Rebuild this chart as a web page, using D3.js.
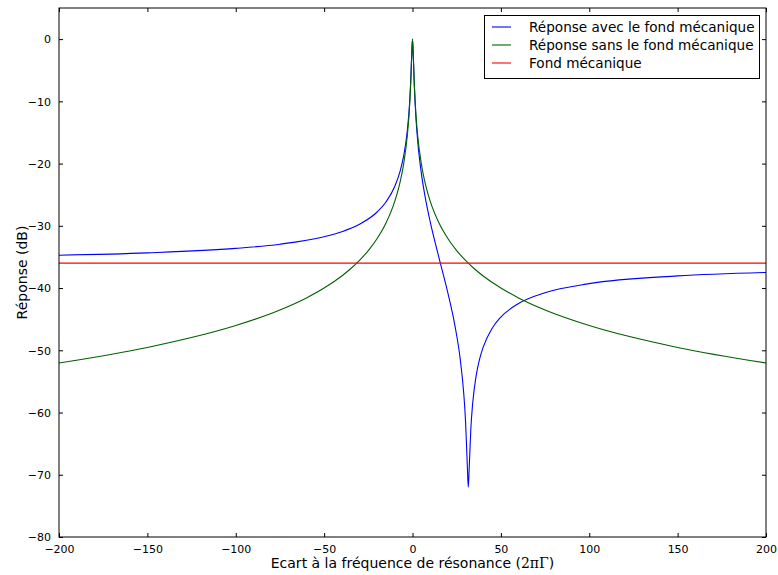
<!DOCTYPE html>
<html><head><meta charset="utf-8">
<script src="https://cdn.jsdelivr.net/npm/d3@7/dist/d3.min.js"></script>
<style>body{margin:0;background:#fff;} svg{display:block;font-family:"DejaVu Sans",sans-serif;}</style>
</head><body>
<svg id="chart" width="778" height="575"></svg>
<script>
// Data
const xTicks = [-200, -150, -100, -50, 0, 50, 100, 150, 200];
const yTicks = [-80, -70, -60, -50, -40, -30, -20, -10, 0];
const seriesNames = ["Réponse avec le fond mécanique", "Réponse sans le fond mécanique", "Fond mécanique"];

const blueX = [-200,-150,-100,-75,-50,-40,-30,-20,-15,-10,-7,-5,-3,-2,-1.5,-1,-0.5,0,0.5,1,1.5,2,3,5,7,10,15,20,24,27,29,30,31,31.55,32,33,34,36,38,40,45,50,60,75,100,150,200];
const blueY = [-34.73,-34.34,-33.62,-32.95,-31.75,-30.95,-29.76,-27.78,-26.17,-23.64,-21.20,-18.76,-14.89,-11.77,-9.60,-6.72,-2.87,0.00,-3.15,-7.27,-10.42,-12.87,-16.55,-21.54,-25.12,-29.34,-35.15,-40.77,-46.03,-51.42,-56.96,-61.32,-68.43,-72.0,-69.53,-62.64,-58.67,-54.10,-51.37,-49.50,-46.49,-44.66,-42.48,-40.74,-39.29,-38.05,-37.49];

const greenX = [-200,-150,-100,-75,-60,-50,-40,-35,-30,-25,-20,-15,-10,-7,-5,-3,-2,-1.5,-1,-0.5,0,0.5,1,1.5,2,3,5,7,10,15,20,25,30,35,40,50,60,75,100,150,200];
const greenY = [-52.04,-49.54,-46.02,-43.52,-41.58,-40.00,-38.06,-36.90,-35.56,-33.98,-32.04,-29.55,-26.03,-22.94,-20.04,-15.68,-12.30,-10.00,-6.99,-3.01,0,-3.01,-6.99,-10.00,-12.30,-15.68,-20.04,-22.94,-26.03,-29.55,-32.04,-33.98,-35.56,-36.90,-38.06,-40.00,-41.58,-43.52,-46.02,-49.54,-52.04];

const redX = [-200, 200];
const redY = [-36, -36];

const colors = ["#0000ff", "#006000", "#ff0000"];

const svg = d3.select("#chart");
const m = {left: 59, top: 8, right: 766, bottom: 537};
const x = d3.scaleLinear().domain([-200, 200]).range([m.left, m.right]);
const y = d3.scaleLinear().domain([-80, 5]).range([m.bottom, m.top]);

svg.append("defs").append("clipPath").attr("id","clip")
  .append("rect").attr("x", m.left).attr("y", m.top).attr("width", m.right-m.left).attr("height", m.bottom-m.top);

const line = d3.line().x(d=>x(d[0])).y(d=>y(d[1])).curve(d3.curveMonotoneX);
const series = [
  d3.zip(blueX, blueY),
  d3.zip(greenX, greenY),
  d3.zip(redX, redY)
];
const g = svg.append("g").attr("clip-path","url(#clip)");
series.forEach((s,i)=>{
  g.append("path").datum(s).attr("d", line).attr("fill","none")
   .attr("stroke", colors[i]).attr("stroke-width", 1.1);
});

// Axes with inward ticks on all sides
const fmt = d => d < 0 ? "\u2212" + Math.abs(d) : String(d);
const axB = svg.append("g").attr("transform",`translate(0,${m.bottom})`)
  .call(d3.axisBottom(x).tickValues(xTicks).tickSizeInner(-4).tickSizeOuter(0).tickPadding(8).tickFormat(fmt));
const axT = svg.append("g").attr("transform",`translate(0,${m.top})`)
  .call(d3.axisTop(x).tickValues(xTicks).tickSizeInner(-4).tickSizeOuter(0).tickFormat(""));
const axL = svg.append("g").attr("transform",`translate(${m.left},0)`)
  .call(d3.axisLeft(y).tickValues(yTicks).tickSizeInner(-4).tickSizeOuter(0).tickPadding(8).tickFormat(fmt));
const axR = svg.append("g").attr("transform",`translate(${m.right},0)`)
  .call(d3.axisRight(y).tickValues(yTicks).tickSizeInner(-4).tickSizeOuter(0).tickFormat(""));
[axB, axT, axL, axR].forEach(a=>{
  a.select(".domain").remove();
  a.selectAll("line").attr("stroke","#000");
  a.selectAll("text").attr("font-size", 11).attr("font-family","DejaVu Sans").attr("fill","#000");
});
axL.selectAll("text").attr("dy","0.35em");

svg.append("rect").attr("x", m.left).attr("y", m.top).attr("width", m.right-m.left).attr("height", m.bottom-m.top)
  .attr("fill","none").attr("stroke","#000").attr("stroke-width",1);

// Axis labels
const xl = svg.append("text").attr("x", (m.left+m.right)/2).attr("y", 568).attr("text-anchor","middle").attr("font-size", 14);
xl.append("tspan").text("Ecart à la fréquence de résonance (");
xl.append("tspan").attr("font-family","DejaVu Serif").text("2πΓ");
xl.append("tspan").text(")");
svg.append("text").attr("transform",`translate(27,${(m.top+m.bottom)/2}) rotate(-90)`)
  .attr("text-anchor","middle").attr("font-size", 14).text("Réponse (dB)");

// Legend
const lg = svg.append("g");
lg.append("rect").attr("x", 484.5).attr("y", 15.5).attr("width", 275).attr("height", 63)
  .attr("fill","#fff").attr("stroke","#000").attr("stroke-width",1);
seriesNames.forEach((n,i)=>{
  const yy = 27 + i*18;
  lg.append("line").attr("x1", 492).attr("x2", 511).attr("y1", yy).attr("y2", yy).attr("stroke", colors[i]).attr("stroke-width",1.1);
  lg.append("text").attr("x", 529).attr("y", yy).attr("dy","0.35em").attr("font-size", 13.6).text(n);
});
</script>
</body></html>
